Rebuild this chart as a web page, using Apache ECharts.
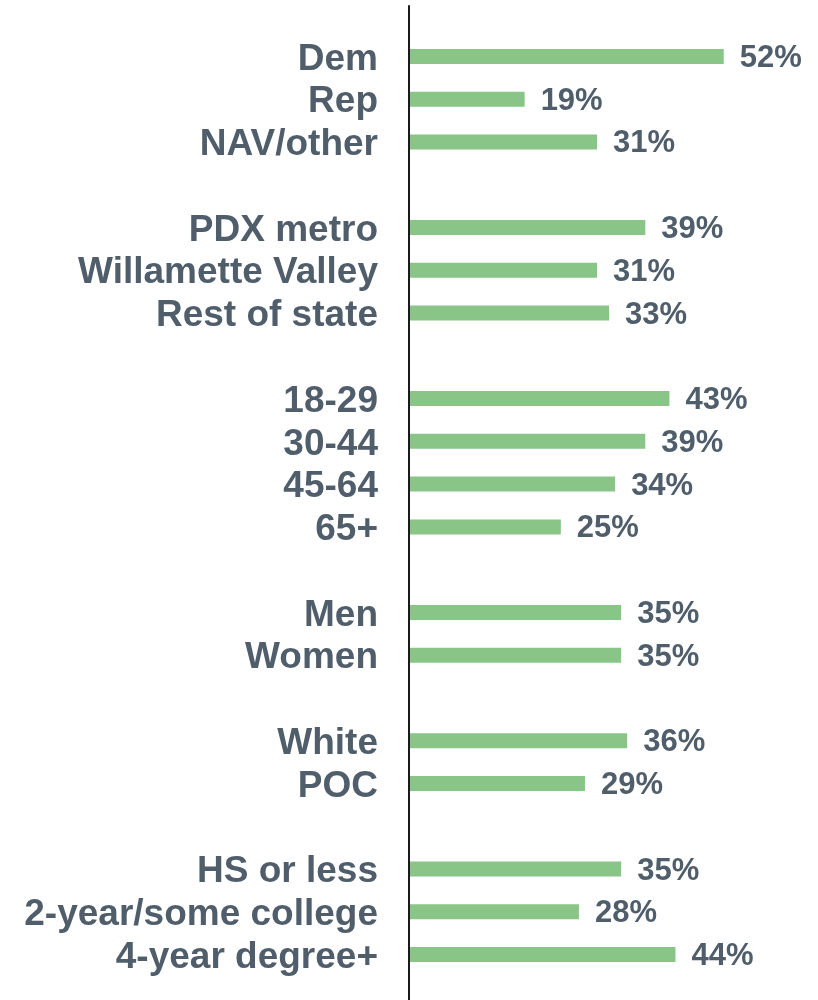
<!DOCTYPE html>
<html>
<head>
<meta charset="utf-8">
<script src="https://cdn.jsdelivr.net/npm/echarts@6/dist/echarts.min.js"></script>
<style>
  html, body { margin: 0; padding: 0; background: #ffffff; }
  #chart { width: 818px; height: 1000px; }
</style>
</head>
<body>
<div id="chart"></div>
<script>
// Share of respondents by subgroup (percent)
const partyLabels = ['Dem', 'Rep', 'NAV/other'];
const partyValues = [52, 19, 31];

const regionLabels = ['PDX metro', 'Willamette Valley', 'Rest of state'];
const regionValues = [39, 31, 33];

const ageLabels = ['18-29', '30-44', '45-64', '65+'];
const ageValues = [43, 39, 34, 25];

const genderLabels = ['Men', 'Women'];
const genderValues = [35, 35];

const raceLabels = ['White', 'POC'];
const raceValues = [36, 29];

const eduLabels = ['HS or less', '2-year/some college', '4-year degree+'];
const eduValues = [35, 28, 44];

const groupLabels = [partyLabels, regionLabels, ageLabels, genderLabels, raceLabels, eduLabels];
const groupValues = [partyValues, regionValues, ageValues, genderValues, raceValues, eduValues];

// Flatten the groups into one category list, with an empty row between groups
const categories = [];
const values = [];
groupLabels.forEach(function (labels, g) {
  if (g > 0) { categories.push(''); values.push(null); }
  labels.forEach(function (name, i) {
    categories.push(name);
    values.push(groupValues[g][i]);
  });
});

const textColor = '#4f5e6a';
const barColor = '#89c587';
const fontFamily = 'Liberation Sans, Arial, sans-serif';

const chart = echarts.init(document.getElementById('chart'), null, { renderer: 'canvas' });
chart.setOption({
  animation: false,
  backgroundColor: '#ffffff',
  grid: [
    { left: 410, top: 35, height: 941, width: 362 },
    // thin grid used only to draw the full-height baseline
    { left: 409, top: 6, bottom: 0, width: 1 }
  ],
  xAxis: [
    { gridIndex: 0, type: 'value', min: 0, max: 60, show: false },
    { gridIndex: 1, type: 'value', show: false }
  ],
  yAxis: [
    {
      gridIndex: 0,
      type: 'category',
      inverse: true,
      data: categories,
      axisLine: { show: false },
      axisTick: { show: false },
      splitLine: { show: false },
      axisLabel: {
        interval: 0,
        margin: 32,
        formatter: function (v) { return v ? '{t|' + v + '}' : ''; },
        rich: {
          t: {
            padding: [6, 0, 0, 0],
            color: textColor,
            fontSize: 37,
            fontWeight: 'bold',
            fontFamily: fontFamily
          }
        },
        color: textColor,
        fontSize: 37,
        fontWeight: 'bold',
        fontFamily: fontFamily
      }
    },
    {
      gridIndex: 1,
      type: 'value',
      axisLine: { show: true, onZero: false, lineStyle: { color: '#1a1a1a', width: 2 } },
      axisTick: { show: false },
      axisLabel: { show: false },
      splitLine: { show: false }
    }
  ],
  series: [
    {
      type: 'bar',
      xAxisIndex: 0,
      yAxisIndex: 0,
      data: values,
      barWidth: 15,
      itemStyle: { color: barColor },
      label: {
        show: true,
        position: 'right',
        distance: 16,
        offset: [0, 2],
        formatter: function (p) { return p.value == null ? '' : p.value + '%'; },
        color: textColor,
        fontSize: 31,
        fontWeight: 'bold',
        fontFamily: fontFamily
      }
    }
  ]
});
</script>
</body>
</html>
